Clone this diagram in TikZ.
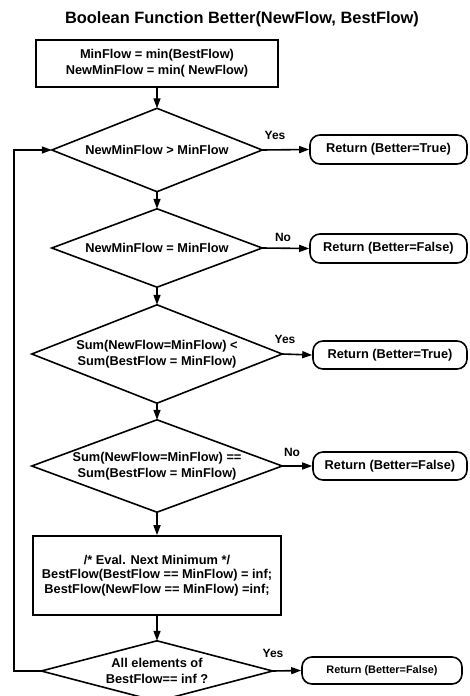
\documentclass[tikz,border=0pt]{standalone}
\usepackage{fontspec}
\setmainfont{Liberation Sans}
\usetikzlibrary{arrows.meta}
\begin{document}
\begin{tikzpicture}[x=1pt,y=-1pt,
  line/.style={line width=1.6pt},
  txt/.style={font=\bfseries\fontsize{12.8}{16}\selectfont, align=center, inner sep=0pt},
  box/.style={txt, draw, line width=1.6pt},
  dec/.style={txt, rectangle},
  ret/.style={txt, draw, line width=1.6pt, rounded corners=10pt},
  lab/.style={font=\bfseries\fontsize{12}{14}\selectfont, inner sep=0pt},
  arr/.style={line, -{Triangle[length=10pt,width=7pt]}}]
\useasboundingbox (0,0) rectangle (469,696);
\clip (0,0) rectangle (469,696);

\node[font=\bfseries\fontsize{16.4}{18}\selectfont] (title) at (242,19) {Boolean Function Better(NewFlow, BestFlow)};

\node[box, minimum width=242pt, minimum height=47pt] (b1) at (157,63.5)
  {MinFlow = min(BestFlow)\\NewMinFlow = min( NewFlow)};

\node[dec, minimum width=210pt, minimum height=83pt] (d1) at (157,150) {NewMinFlow > MinFlow};
\node[dec, minimum width=210pt, minimum height=78pt] (d2) at (157,248) {NewMinFlow = MinFlow};
\node[dec, minimum width=250pt, minimum height=98pt] (d3) at (157,354) {Sum(NewFlow=MinFlow) <\\Sum(BestFlow = MinFlow)};
\node[dec, minimum width=250pt, minimum height=92pt] (d4) at (157,466) {Sum(NewFlow=MinFlow) ==\\Sum(BestFlow = MinFlow)};
\node[box, minimum width=248pt, minimum height=79pt, font=\bfseries\fontsize{12.8}{14.6}\selectfont] (b2) at (157,575.5)
  {/* Eval. Next Minimum */\\BestFlow(BestFlow == MinFlow) = inf;\\BestFlow(NewFlow == MinFlow) =inf;};
\node[dec, minimum width=231pt, minimum height=60pt] (d5) at (157,671) {All elements of\\BestFlow== inf ?};

\foreach \n in {d1,d2,d3,d4,d5}
  \draw[line] (\n.north) -- (\n.east) -- (\n.south) -- (\n.west) -- cycle;

\node[ret, minimum width=157pt, minimum height=29pt] (r1) at (388.5,149.5) {Return (Better=True)};
\node[ret, minimum width=157pt, minimum height=29pt] (r2) at (388.5,248.5) {Return (Better=False)};
\node[ret, minimum width=154pt, minimum height=28pt] (r3) at (390,355) {Return (Better=True)};
\node[ret, minimum width=154pt, minimum height=28pt] (r4) at (390,466) {Return (Better=False)};
\node[ret, minimum width=160pt, minimum height=27pt, font=\bfseries\fontsize{10.9}{13}\selectfont] (r5) at (382,670.5) {Return (Better=False)};

\draw[arr] (b1.south) -- (d1.north);
\draw[arr] (d1.south) -- (d2.north);
\draw[arr] (d2.south) -- (d3.north);
\draw[arr] (d3.south) -- (d4.north);
\draw[arr] (d4.south) -- (b2.north);
\draw[arr] (b2.south) -- (d5.north);

\draw[arr] (d1.east) -- (r1.west);
\draw[arr] (d2.east) -- (r2.west);
\draw[arr] (d3.east) -- (r3.west);
\draw[arr] (d4.east) -- (r4.west);
\draw[arr] (d5.east) -- (r5.west);

\node[lab] (l1) at (275,135) {Yes};
\node[lab] (l2) at (283,237) {No};
\node[lab] (l3) at (285,339) {Yes};
\node[lab] (l4) at (292,452) {No};
\node[lab] (l5) at (273,653) {Yes};

\coordinate (lp) at (14,671);
\draw[arr] (d5.west) -- (lp) |- (d1.west);
\end{tikzpicture}
\end{document}
